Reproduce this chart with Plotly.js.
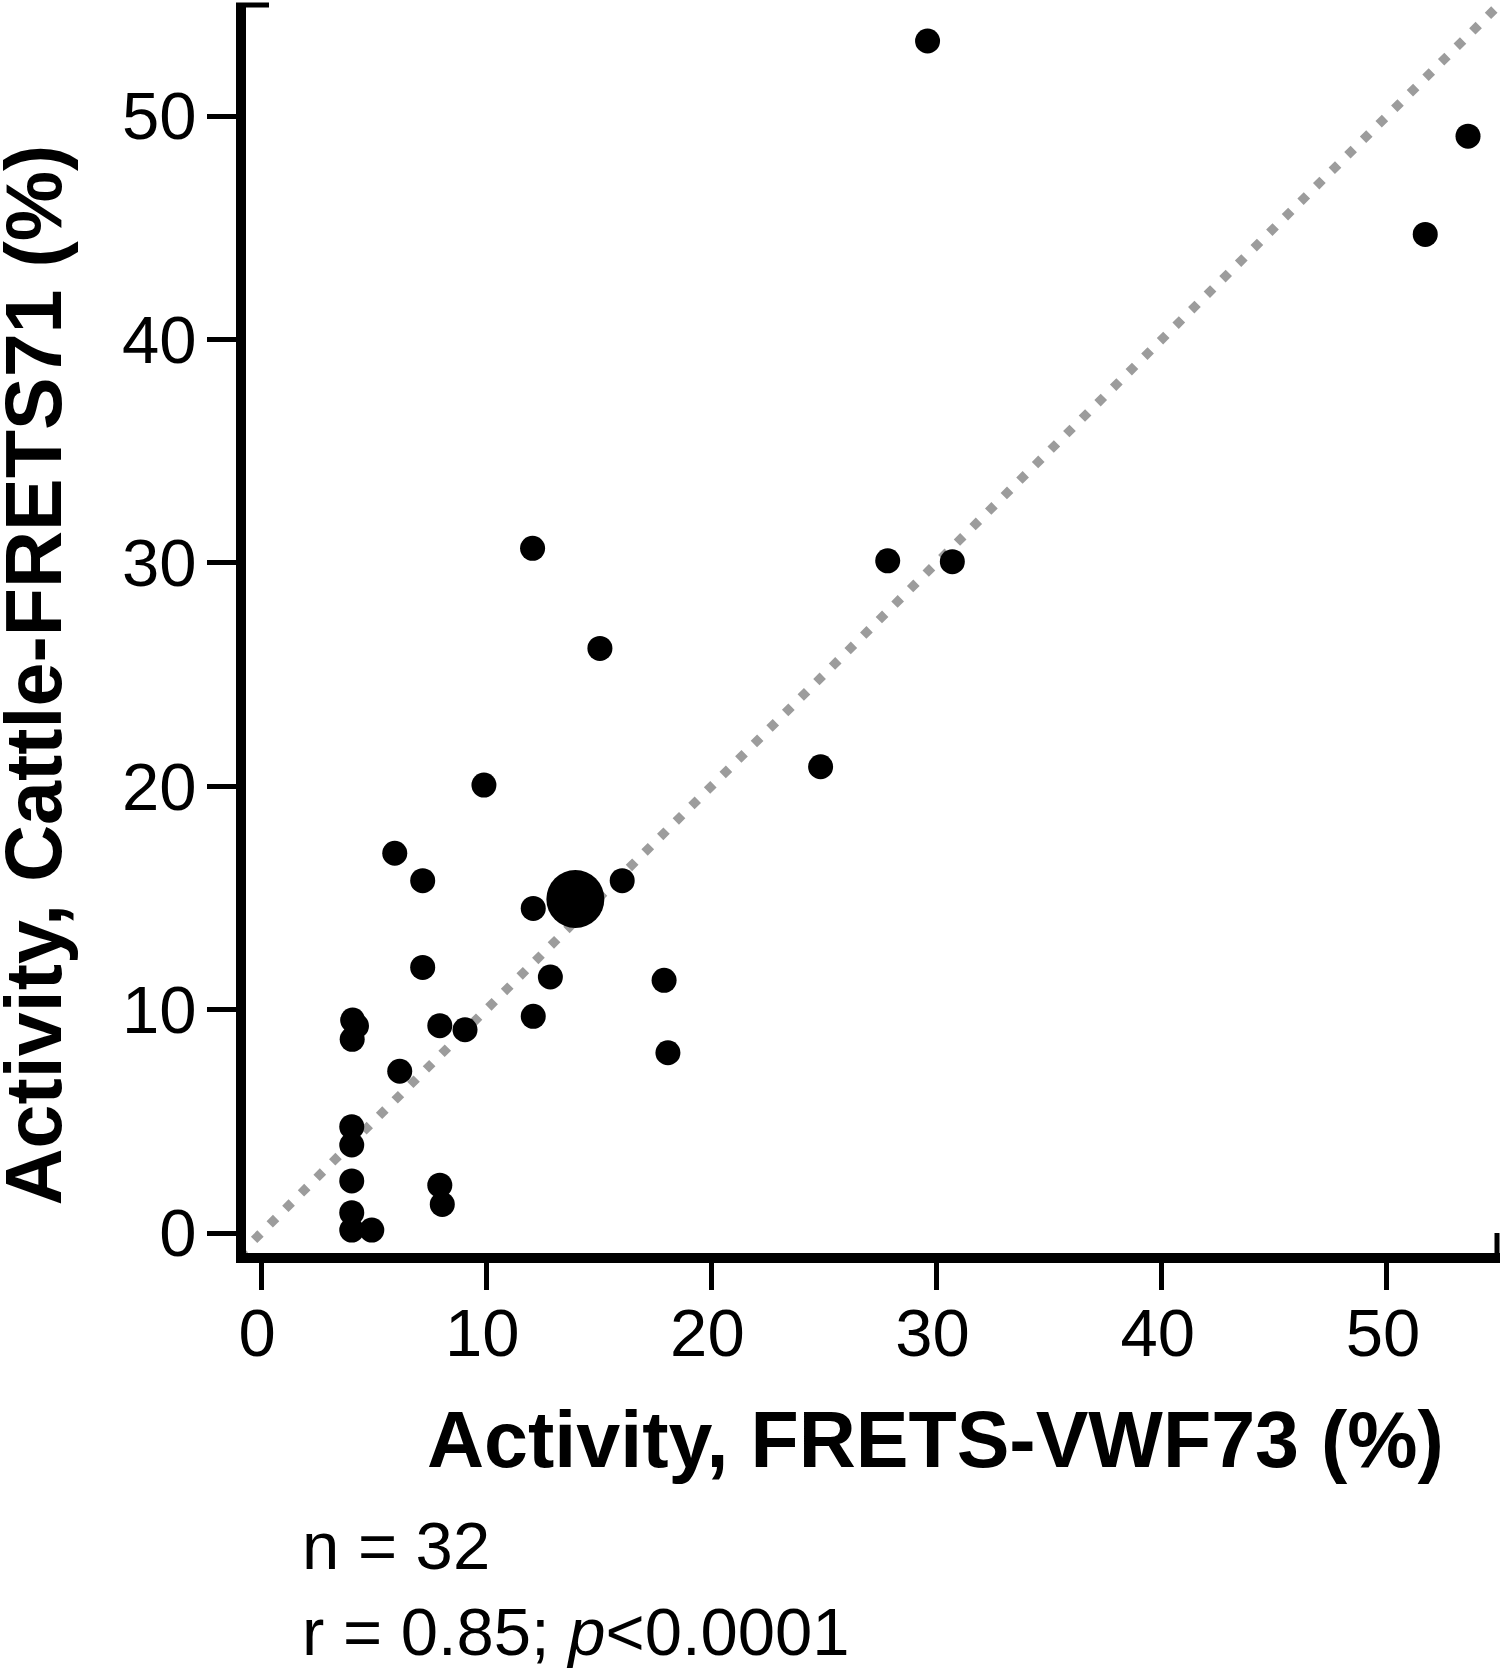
<!DOCTYPE html>
<html>
<head>
<meta charset="utf-8">
<script src="https://cdn.plot.ly/plotly-3.0.1.min.js"></script>
<style>
  html, body { margin: 0; padding: 0; background: #ffffff; }
  #chart { width: 1500px; height: 1668px; }
</style>
</head>
<body>
<div id="chart"></div>
<script>
// Activity, FRETS-VWF73 (%) for each sample
const frets73 = [5.94, 7.18, 12.09, 16.04, 7.18, 12.85, 17.9, 4.07, 4.24, 4.05,
                 7.94, 9.06, 12.09, 18.07, 6.16, 4.03, 4.03, 4.03, 7.94, 8.05,
                 4.03, 4.03, 4.92, 12.06, 15.05, 9.9, 24.85, 27.83, 30.7, 29.6,
                 53.6, 51.7];
// Activity, Cattle-FRETS71 (%) for each sample
const cattle71 = [17.0, 15.77, 14.53, 15.77, 11.89, 11.46, 11.31, 9.53, 9.27, 8.67,
                  9.28, 9.1, 9.7, 8.07, 7.24, 4.76, 3.94, 2.33, 2.14, 1.28,
                  0.91, 0.13, 0.13, 30.65, 26.17, 20.05, 20.87, 30.09, 30.05, 53.36,
                  49.1, 44.7];
// overlapping group drawn as one large symbol
const groupX = [13.96];
const groupY = [14.95];
// identity (line of equality) endpoints
const identity = [-1, 56];
const tickValues = [0, 10, 20, 30, 40, 50];

const FONT = '"Liberation Sans", Arial, Helvetica, sans-serif';

const traces = [
  {
    x: identity, y: identity, type: 'scatter', mode: 'lines',
    line: { color: '#9c9c9c', width: 9, dash: '9px,13px' },
    hoverinfo: 'skip'
  },
  {
    x: frets73, y: cattle71, type: 'scatter', mode: 'markers',
    marker: { color: '#000000', size: 25, line: { width: 0 } }
  },
  {
    x: groupX, y: groupY, type: 'scatter', mode: 'markers',
    marker: { color: '#000000', size: 58, line: { width: 0 } }
  }
];

const W = 1254, H = 1248, L = 246, T = 5;

const layout = {
  width: 1500, height: 1668,
  margin: { l: L, r: 0, t: T, b: 1668 - T - H, pad: 0 },
  paper_bgcolor: '#ffffff', plot_bgcolor: '#ffffff',
  showlegend: false,
  hovermode: false,
  font: { family: FONT, color: '#000000' },
  xaxis: {
    range: [-0.666, 55.02],
    tickvals: tickValues,
    ticktext: tickValues.map(String),
    showgrid: false, zeroline: false,
    showline: true, linecolor: '#000000', linewidth: 10,
    ticks: 'outside', ticklen: 27, tickwidth: 5, tickcolor: '#000000',
    ticklabelstandoff: -14, ticklabelshift: -4,
    tickfont: { family: FONT, size: 67, color: '#000000' }
  },
  yaxis: {
    range: [-0.895, 54.97],
    tickvals: tickValues,
    ticktext: tickValues.map(String),
    showgrid: false, zeroline: false,
    showline: true, linecolor: '#000000', linewidth: 10,
    ticks: 'outside', ticklen: 29, tickwidth: 5, tickcolor: '#000000',
    ticklabelstandoff: -3,
    tickfont: { family: FONT, size: 67, color: '#000000' }
  },
  shapes: [
    { type: 'line', xref: 'paper', yref: 'paper', xsizemode: 'pixel', xanchor: 0,
      x0: -10, x1: 23, y0: 1, y1: 1, line: { color: '#000000', width: 5 } },
    { type: 'line', xref: 'paper', yref: 'paper', xsizemode: 'pixel', xanchor: 1,
      ysizemode: 'pixel', yanchor: 0,
      x0: -3, x1: -3, y0: -5, y1: 20, line: { color: '#000000', width: 5 } }
  ],
  annotations: [
    { text: '<b>Activity, FRETS-VWF73 (%)</b>', xref: 'paper', yref: 'paper',
      x: (935.5 - L) / W, y: (T + H - 1439) / H, xanchor: 'center', yanchor: 'middle',
      showarrow: false, font: { family: FONT, size: 79, color: '#000000' } },
    { text: '<b>Activity, Cattle-FRETS71 (%)</b>', xref: 'paper', yref: 'paper',
      x: (33 - L) / W, y: (T + H - 675.5) / H, xanchor: 'center', yanchor: 'middle',
      textangle: -90,
      showarrow: false, font: { family: FONT, size: 79, color: '#000000' } },
    { text: 'n = 32', xref: 'paper', yref: 'paper',
      x: (300 - L) / W, y: (T + H - 1545) / H, xanchor: 'left', yanchor: 'middle',
      showarrow: false, font: { family: FONT, size: 67, color: '#000000' } },
    { text: 'r = 0.85; <i>p</i>&lt;0.0001', xref: 'paper', yref: 'paper',
      x: (300 - L) / W, y: (T + H - 1631) / H, xanchor: 'left', yanchor: 'middle',
      showarrow: false, font: { family: FONT, size: 67, color: '#000000' } }
  ]
};

Plotly.newPlot('chart', traces, layout, { staticPlot: true, displayModeBar: false });
</script>
</body>
</html>
